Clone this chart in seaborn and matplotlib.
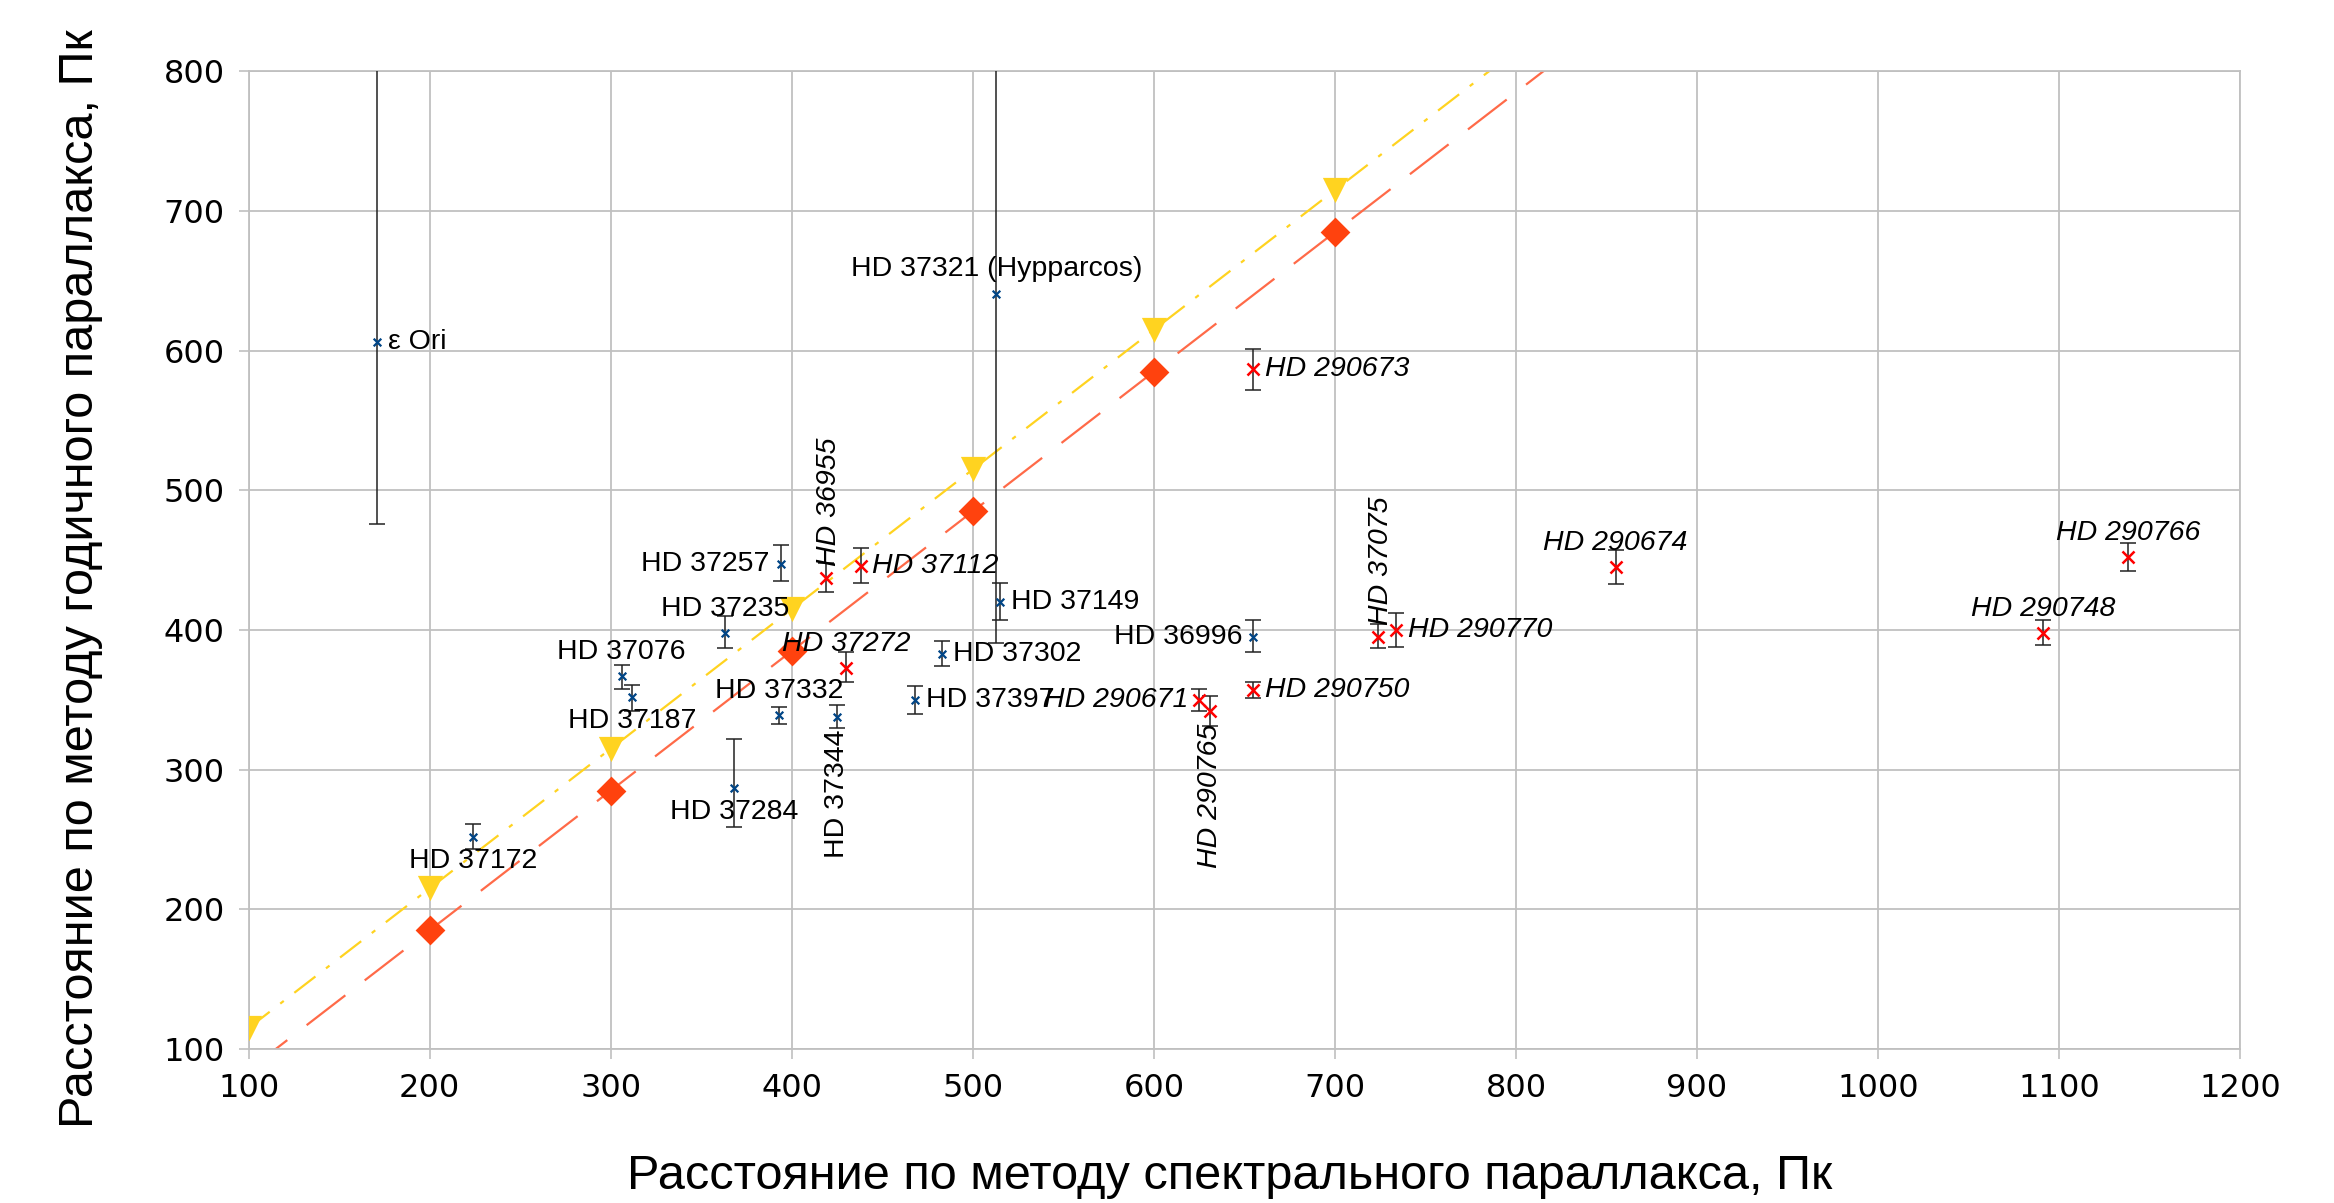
import numpy as np
import pandas as pd
import matplotlib
matplotlib.use("Agg")
import matplotlib.pyplot as plt
import seaborn as sns
from matplotlib import font_manager

# ---------------- data ----------------
blue_names = ["ε Ori", "HD 37321 (Hypparcos)", "HD 37257", "HD 37235", "HD 37149",
              "HD 37076", "HD 37302", "HD 36996", "HD 37332", "HD 37397",
              "HD 37187", "HD 37284", "HD 37344", "HD 37172"]
blue_x = [171, 513, 394, 363, 515, 306, 483, 655, 393, 468, 312, 368, 425, 224]
blue_y = [606, 641, 447, 398, 420, 367, 383, 395, 339, 350, 352, 287, 338, 252]
blue_lo = [476, 391, 435, 387, 407, 358, 374, 384, 333, 340, 342, 259, 330, 243]
blue_hi = [1000, 1000, 461, 410, 434, 375, 392, 407, 345, 360, 361, 322, 346, 261]
blue_pos = ["right", "above", "left", "above", "right", "above", "right", "left",
            "above", "right", "below", "below", "vbelow", "below"]

red_names = ["HD 36955", "HD 37112", "HD 37272", "HD 290673", "HD 290671",
             "HD 290765", "HD 290750", "HD 37075", "HD 290770", "HD 290674",
             "HD 290748", "HD 290766"]
red_x = [419, 438, 430, 655, 625, 631, 655, 724, 734, 855, 1091, 1138]
red_y = [437, 446, 373, 587, 350, 342, 357, 395, 400, 445, 398, 452]
red_lo = [427, 434, 363, 572, 342, 331, 351, 387, 388, 433, 389, 442]
red_hi = [448, 459, 384, 601, 358, 353, 363, 404, 412, 457, 407, 462]
red_pos = ["vabove", "right", "above", "right", "left", "vbelow", "right",
           "vabove", "right", "above", "above", "above"]

tri_x = [100, 200, 300, 400, 500, 600, 700]
tri_y = [115, 215, 315, 415, 515, 615, 715]
dia_x = [200, 300, 400, 500, 600, 700]
dia_y = [185, 285, 385, 485, 585, 685]

x_ticks = list(range(100, 1201, 100))
y_ticks = list(range(100, 801, 100))
x_label = "Расстояние по методу спектрального параллакса, Пк"
y_label = "Расстояние по методу годичного параллакса, Пк"

# ---------------- style ----------------
sns.set_theme(style="white")
plt.rcParams['font.family'] = ['Liberation Sans', 'DejaVu Sans']
plt.rcParams['text.color'] = 'black'
plt.rcParams['axes.labelcolor'] = 'black'
avail = {f.name for f in font_manager.fontManager.ttflist}
narrow = 'Liberation Sans Narrow' if 'Liberation Sans Narrow' in avail else 'Liberation Sans'

BLUE = "#004586"
RED = "#ff0000"
ORANGE = "#ff420e"
GOLD = "#ffd320"
GRID = "#c0c0c0"

fig = plt.figure(figsize=(23.34, 12.03), dpi=100)
ax = fig.add_axes([0.1065, 0.128, 0.8533, 0.8126])
ax.set_xlim(100, 1200)
ax.set_ylim(100, 800)

ax.set_xticks(x_ticks)
ax.set_yticks(y_ticks)
ax.grid(True, color=GRID, linewidth=1.3)
ax.set_axisbelow(True)
for s in ax.spines.values():
    s.set_color(GRID)
    s.set_linewidth(1.3)
ax.tick_params(axis='both', which='major', length=7, width=1.2, color=GRID,
               labelcolor='black', labelsize=23, pad=10, direction='out',
               bottom=True, left=True, labelfontfamily='DejaVu Sans')

# trend lines fitted through the reference series
xx = np.array([100, 1200])
kt, bt = np.polyfit(tri_x, tri_y, 1)
kd, bd = np.polyfit(dia_x, dia_y, 1)
line_df = pd.DataFrame({"x": np.r_[xx, xx],
                        "y": np.r_[kt * xx + bt, kd * xx + bd],
                        "s": ["t", "t", "d", "d"]})
sns.lineplot(data=line_df[line_df.s == "t"], x="x", y="y", ax=ax, color=GOLD,
             linewidth=1.6, legend=False)
ax.lines[-1].set_dashes([12, 6, 2, 6])
sns.lineplot(data=line_df[line_df.s == "d"], x="x", y="y", ax=ax, color="#ff6a48",
             linewidth=1.6, legend=False)
ax.lines[-1].set_dashes([22, 11])

# reference series markers
sns.scatterplot(x=tri_x, y=tri_y, ax=ax, marker="v", color=GOLD, s=330,
                linewidth=0, zorder=4, legend=False)
sns.scatterplot(x=dia_x, y=dia_y, ax=ax, marker="D", color=ORANGE, s=230,
                linewidth=0, zorder=4, legend=False)

# error bars
bx, by = np.array(blue_x), np.array(blue_y)
ax.errorbar(bx, by, yerr=[by - np.array(blue_lo), np.array(blue_hi) - by],
            fmt='none', ecolor='#222222', elinewidth=1.1, capsize=6,
            capthick=1.1, zorder=3)
rx, ry = np.array(red_x), np.array(red_y)
ax.errorbar(rx, ry, yerr=[ry - np.array(red_lo), np.array(red_hi) - ry],
            fmt='none', ecolor='#222222', elinewidth=1.1, capsize=6,
            capthick=1.1, zorder=3)

sns.scatterplot(x=blue_x, y=blue_y, ax=ax, marker="x", color=BLUE, s=30,
                linewidth=1.6, zorder=5, legend=False)
sns.scatterplot(x=red_x, y=red_y, ax=ax, marker="x", color=RED, s=75,
                linewidth=1.8, zorder=5, legend=False)

# labels
def place(names, xs, ys, poss, style):
    for n, x, y, p in zip(names, xs, ys, poss):
        kw = dict(fontsize=20.5, style=style, family='Liberation Sans',
                  color='black', textcoords='offset points',
                  annotation_clip=False, zorder=6)
        if p == "right":
            ax.annotate(n, (x, y), xytext=(8, 0), ha='left', va='center', **kw)
        elif p == "left":
            ax.annotate(n, (x, y), xytext=(-8, 0), ha='right', va='center', **kw)
        elif p == "above":
            ax.annotate(n, (x, y), xytext=(0, 8), ha='center', va='bottom', **kw)
        elif p == "below":
            ax.annotate(n, (x, y), xytext=(0, -8), ha='center', va='top', **kw)
        elif p == "vabove":
            ax.annotate(n, (x, y), xytext=(2, 9), ha='center', va='bottom',
                        rotation=90, **kw)
        elif p == "vbelow":
            ax.annotate(n, (x, y), xytext=(0, -9), ha='center', va='top',
                        rotation=90, **kw)

place(blue_names, blue_x, blue_y, blue_pos, 'normal')
place(red_names, red_x, red_y, red_pos, 'italic')

ax.set_xlabel(x_label, fontsize=35, family=narrow, va='baseline', color='black')
ax.set_ylabel(y_label, fontsize=35, family=narrow, color='black')
ax.xaxis.set_label_coords(0.4925, -0.1435)
ax.yaxis.set_label_coords(-0.073, 0.481)

fig.savefig("out.png", dpi=100)
